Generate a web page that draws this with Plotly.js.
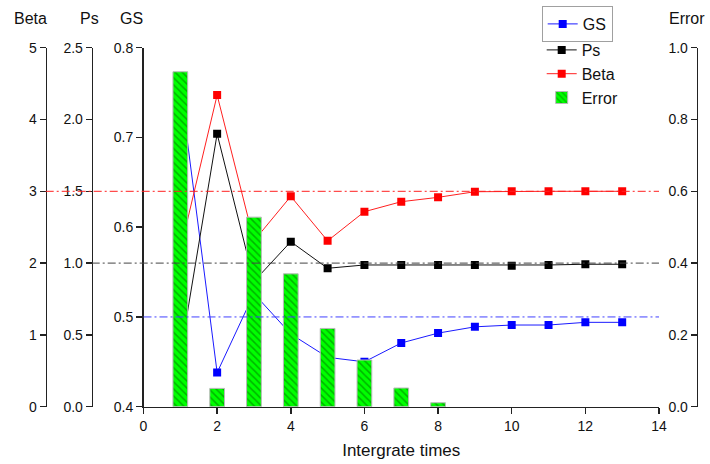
<!DOCTYPE html>
<html><head><meta charset="utf-8">
<script src="https://cdn.plot.ly/plotly-3.0.1.min.js"></script>
<style>html,body{margin:0;padding:0;background:#fff;}#chart{width:710px;height:464px;}</style>
</head><body><div id="chart"></div>
<script>
// ---- data ----
const iterations = [1,2,3,4,5,6,7,8,9,10,11,12,13];
const gsValues   = [0.757,0.438,0.526,0.481,0.455,0.450,0.471,0.482,0.489,0.491,0.491,0.494,0.494];
const psValues   = [0.36,1.90,0.873,1.149,0.964,0.987,0.987,0.987,0.987,0.982,0.987,0.992,0.992];
const betaValues = [2.18,4.34,2.31,2.93,2.31,2.716,2.855,2.916,2.994,3.0,3.0,3.0,3.0];
const errorIterations = [1,2,3,4,5,6,7,8];
const errorValues     = [0.933,0.051,0.528,0.370,0.218,0.130,0.052,0.011];
const gsReference = 0.5;
const psReference = 1.0;
const betaReference = 3.0;
const xTickValues = [0,2,4,6,8,10,12,14];
const seriesNames = ['GS','Ps','Beta','Error'];

// ---- geometry helpers (pixels -> paper fractions) ----
const W = 710, H = 464;
const px = v => v / W;
const py = v => 1 - v / H;
const FONT = 'Liberation Sans, Arial, sans-serif';
const AX = '#222';

const axisCommon = {
  showgrid:false, zeroline:false, showline:true, linecolor:AX, linewidth:1.5,
  ticks:'outside', ticklen:6, tickwidth:1.5, tickcolor:AX,
  tickfont:{family:FONT, size:14, color:'#111'}, automargin:false
};

const traces = [
  {x:iterations, y:gsValues, name:seriesNames[0], type:'scatter', mode:'lines+markers',
   xaxis:'x', yaxis:'y', legend:'legend',
   line:{color:'#1a1aff', width:1}, marker:{symbol:'square', size:8, color:'#0000ff'}},
  {x:iterations, y:psValues, name:seriesNames[1], type:'scatter', mode:'lines+markers',
   xaxis:'x', yaxis:'y2', legend:'legend2',
   line:{color:'#111', width:1}, marker:{symbol:'square', size:8, color:'#000'}},
  {x:iterations, y:betaValues, name:seriesNames[2], type:'scatter', mode:'lines+markers',
   xaxis:'x', yaxis:'y3', legend:'legend2',
   line:{color:'#ff2020', width:1}, marker:{symbol:'square', size:8, color:'#ff0000'}},
  {x:errorIterations, y:errorValues, name:seriesNames[3], type:'bar', width:0.4,
   xaxis:'x', yaxis:'y4', legend:'legend2',
   marker:{color:'#00ff00', line:{color:'#b8b8b8', width:1},
           pattern:{shape:'\\', fgcolor:'#00b400', bgcolor:'#00ff00', size:5, solidity:0.3}}}
];

const dashDot = '8px,3px,2px,3px';
const layout = {
  width:W, height:H, margin:{l:0,r:0,t:0,b:0},
  paper_bgcolor:'#fff', plot_bgcolor:'rgba(0,0,0,0)',
  font:{family:FONT, color:'#111'},
  showlegend:true,
  xaxis:Object.assign({}, axisCommon, {
    domain:[px(143.5), px(659)], range:[0,14], tickvals:xTickValues, anchor:'y',
    title:{text:'Intergrate times', font:{family:FONT, size:17, color:'#111'}, standoff:11}
  }),
  yaxis:Object.assign({}, axisCommon, {
    domain:[py(406.7), py(47.7)], range:[0.4,0.8], dtick:0.1, tickformat:'.1f', anchor:'x', side:'left'
  }),
  yaxis2:Object.assign({}, axisCommon, {
    overlaying:'y', anchor:'free', position:px(91.7), side:'left',
    range:[0,2.5], dtick:0.5, tickformat:'.1f'
  }),
  yaxis3:Object.assign({}, axisCommon, {
    overlaying:'y', anchor:'free', position:px(45.7), side:'left',
    range:[0,5], dtick:1
  }),
  yaxis4:Object.assign({}, axisCommon, {
    overlaying:'y', anchor:'free', position:px(696.7), side:'left',
    range:[0,1], dtick:0.2, tickformat:'.1f'
  }),
  legend:{x:px(541.7), y:py(6), xanchor:'left', yanchor:'top',
    bordercolor:'#a0a0a0', borderwidth:1, bgcolor:'rgba(255,255,255,0)',
    font:{family:FONT, size:16, color:'#111'}, itemwidth:30, tracegroupgap:0},
  legend2:{x:px(541.7), y:py(33), xanchor:'left', yanchor:'top',
    borderwidth:0, bgcolor:'rgba(255,255,255,0)',
    font:{family:FONT, size:16, color:'#111'}, itemwidth:30, tracegroupgap:0},
  shapes:[
    {type:'line', layer:'above', xref:'paper', yref:'y3', x0:px(45.7), x1:px(659),
     y0:betaReference, y1:betaReference, line:{color:'#ff2020', width:1, dash:dashDot}},
    {type:'line', layer:'above', xref:'paper', yref:'y2', x0:px(91.7), x1:px(659),
     y0:psReference, y1:psReference, line:{color:'#444', width:1, dash:dashDot}},
    {type:'line', layer:'above', xref:'paper', yref:'y', x0:px(143.5), x1:px(659),
     y0:gsReference, y1:gsReference, line:{color:'#4040ff', width:1, dash:dashDot}}
  ],
  annotations:[
    {text:'Beta', x:px(31), y:py(19)},
    {text:'Ps', x:px(89), y:py(19)},
    {text:'GS', x:px(131.5), y:py(19)},
    {text:'Error', x:px(687), y:py(18)}
  ].map(a => Object.assign({xref:'paper', yref:'paper', showarrow:false,
    xanchor:'center', yanchor:'middle', font:{family:FONT, size:16, color:'#111'}}, a))
};

Plotly.newPlot('chart', traces, layout, {displayModeBar:false, staticPlot:true});
</script>
</body></html>
